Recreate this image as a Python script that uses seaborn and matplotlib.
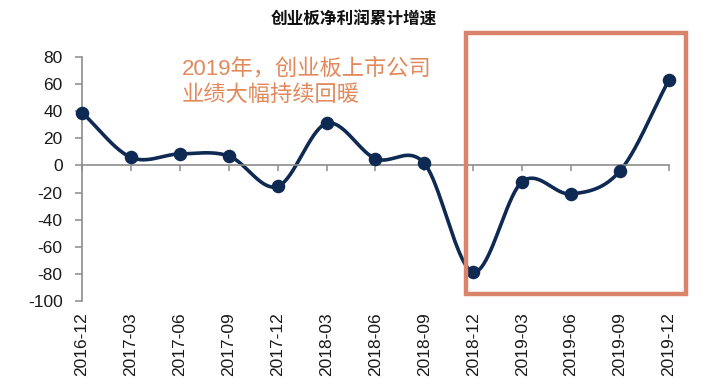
import numpy as np
import pandas as pd
import matplotlib
matplotlib.use("Agg")
import matplotlib.pyplot as plt
import matplotlib.patches as mpatches
import seaborn as sns

categories = ["2016-12", "2017-03", "2017-06", "2017-09", "2017-12", "2018-03",
              "2018-06", "2018-09", "2018-12", "2019-03", "2019-06", "2019-09", "2019-12"]
values = [39, 6, 8.5, 7, -15.5, 31, 5, 1.5, -78.5, -12, -21, -4, 63]
y_ticks = [80, 60, 40, 20, 0, -20, -40, -60, -80, -100]
title = "创业板净利润累计增速"
note = "2019年，创业板上市公司\n业绩大幅持续回暖"

sns.set_theme(style="white")
plt.rcParams['font.family'] = ['Liberation Sans', 'Noto Sans CJK SC', 'DejaVu Sans']

line_color = "#0E2A52"
box_color = "#D9836A"
note_color = "#E2895C"
axis_color = "#8C8C8C"

x = np.arange(len(values), dtype=float)
y = np.array(values, dtype=float)

# Catmull-Rom smoothing (Excel-style smoothed line) through the data points
def smooth(xp, yp, n=40):
    px = np.concatenate([[2 * xp[0] - xp[1]], xp, [2 * xp[-1] - xp[-2]]])
    py = np.concatenate([[2 * yp[0] - yp[1]], yp, [2 * yp[-1] - yp[-2]]])
    xs, ys = [], []
    t = np.linspace(0, 1, n)
    for i in range(1, len(px) - 2):
        p0, p1, p2, p3 = [np.array([px[j], py[j]]) for j in (i - 1, i, i + 1, i + 2)]
        c1 = p1 + (p2 - p0) / 6
        c2 = p2 - (p3 - p1) / 6
        pts = ((1 - t) ** 3)[:, None] * p1 + (3 * (1 - t) ** 2 * t)[:, None] * c1 \
            + (3 * (1 - t) * t ** 2)[:, None] * c2 + (t ** 3)[:, None] * p2
        xs.extend(pts[:, 0]); ys.extend(pts[:, 1])
    return np.array(xs), np.array(ys)

sx, sy = smooth(x, y)
curve = pd.DataFrame({"x": sx, "y": sy})
pts = pd.DataFrame({"x": x, "y": y})

fig = plt.figure(figsize=(7.08, 3.85), dpi=100)
ax = fig.add_axes([0.1158, 0.218, 0.829, 0.634])

sns.lineplot(data=curve, x="x", y="y", sort=False, color=line_color, linewidth=2.6, ax=ax)
sns.scatterplot(data=pts, x="x", y="y", color=line_color, s=95, edgecolor=line_color,
                linewidth=0, zorder=5, ax=ax, clip_on=False)

ax.set_xlim(0, len(values) - 1)
ax.set_ylim(-100, 80)
ax.set_xlabel("")
ax.set_ylabel("")

for s in ["top", "right"]:
    ax.spines[s].set_visible(False)
ax.spines["left"].set_color(axis_color)
ax.spines["left"].set_linewidth(1.2)
ax.spines["bottom"].set_position(("data", 0))
ax.spines["bottom"].set_color(axis_color)
ax.spines["bottom"].set_linewidth(1.2)

ax.set_yticks(y_ticks)
ax.set_yticklabels([str(v) for v in y_ticks])
ax.set_xticks(x)
ax.tick_params(axis="y", direction="out", length=5, width=1.1, color=axis_color,
               labelsize=12.5, labelcolor="#1a1a1a", pad=9, left=True)
ax.tick_params(axis="x", direction="out", length=4, width=1.1, color=axis_color,
               labelbottom=False, bottom=True)

sec = ax.secondary_xaxis("bottom")
sec.set_xticks(x)
sec.set_xticklabels(categories, rotation=90, fontsize=12.5, color="#1a1a1a")
sec.tick_params(length=0, pad=8)
sec.spines["bottom"].set_visible(False)

rect = mpatches.Rectangle((7.85, -95), 12.35 - 7.85, 98 + 95, fill=False,
                          edgecolor=box_color, linewidth=3.2, clip_on=False, zorder=6)
ax.add_patch(rect)

fig.text(0.257, 0.848, note, fontsize=16, color=note_color, va="top", ha="left",
         linespacing=1.3, family=['Liberation Sans', 'Noto Sans CJK SC'])

fig.text(0.5, 0.948, title, fontsize=12, fontweight="bold", ha="center", va="center",
         color="#111111", family=['Noto Sans CJK SC'])

fig.savefig("out.png", dpi=100, facecolor="white")
